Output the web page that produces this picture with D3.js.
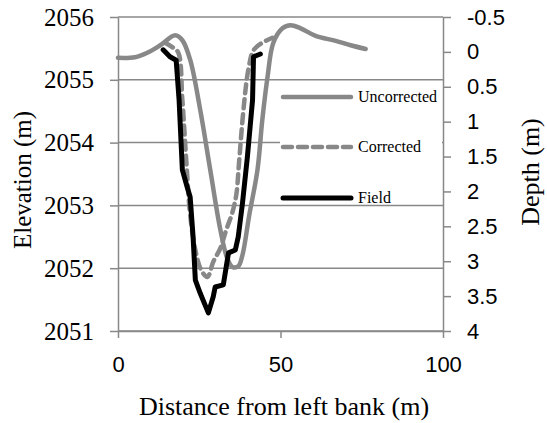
<!DOCTYPE html>
<html>
<head>
<meta charset="utf-8">
<script src="https://cdn.jsdelivr.net/npm/d3@7/dist/d3.min.js"></script>
<style>
  body { margin: 0; background: #fff; }
  svg { display: block; }
</style>
</head>
<body>
<div id="chart"></div>
<script>
// distance from left bank (m) / elevation (m)
const uncorrectedX = [0, 5.2, 9.0, 13.0, 17.6, 19.8, 22.2, 25.3, 28.4, 31.5, 33.6, 35.2, 37.0, 38.3, 40.4, 42.9, 44.4, 46.0, 47.8, 50.6, 53.1, 56.2, 60.8, 67.0, 71.6, 76.2];
const uncorrectedY = [2055.35, 2055.36, 2055.43, 2055.55, 2055.71, 2055.63, 2055.32, 2054.52, 2053.56, 2052.61, 2052.16, 2052.02, 2052.03, 2052.21, 2052.85, 2053.56, 2054.36, 2055.04, 2055.59, 2055.82, 2055.87, 2055.82, 2055.70, 2055.62, 2055.55, 2055.49];

const correctedX = [14.5, 16.7, 18.5, 19.8, 21.0, 22.2, 23.8, 25.6, 27.5, 29.3, 31.5, 33.3, 35.2, 36.4, 37.3, 38.6, 40.1, 41.7, 44.4, 47.5];
const correctedY = [2055.59, 2055.52, 2055.44, 2054.68, 2053.72, 2052.85, 2052.29, 2051.97, 2051.86, 2052.10, 2052.32, 2052.61, 2052.89, 2053.17, 2053.72, 2054.52, 2055.16, 2055.47, 2055.59, 2055.67];

// field survey, plotted as depth (m) on the right axis
const fieldX = [13.9, 16.0, 17.9, 18.8, 19.8, 21.3, 22.2, 23.1, 23.8, 25.3, 27.8, 29.3, 29.9, 32.4, 34.0, 36.1, 37.0, 38.3, 39.8, 41.4, 41.7, 43.8];
const fieldDepth = [-0.03, 0.07, 0.12, 0.69, 1.69, 1.94, 2.08, 2.65, 3.27, 3.46, 3.74, 3.51, 3.37, 3.34, 2.88, 2.84, 2.65, 2.17, 1.51, 0.69, 0.07, 0.03];

const xTicks = [0, 50, 100];
const elevTicks = [2051, 2052, 2053, 2054, 2055, 2056];
const depthTicks = [-0.5, 0, 0.5, 1, 1.5, 2, 2.5, 3, 3.5, 4];
const legendNames = ['Uncorrected', 'Corrected', 'Field'];

const width = 547;
const height = 423;
const margin = {top: 17, right: 104, bottom: 92, left: 118};
const gray = '#888888';
const serif = '"Liberation Serif", "Times New Roman", serif';
const sans = '"Liberation Sans", Arial, sans-serif';
const plain = d => String(d);

const svg = d3.select('#chart')
  .append('svg')
  .attr('width', width)
  .attr('height', height);

const x = d3.scaleLinear().domain([0, 100]).range([margin.left, width - margin.right]);
const yElev = d3.scaleLinear().domain([2051, 2056]).range([height - margin.bottom, margin.top]);
const yDepth = d3.scaleLinear().domain([4, -0.5]).range([height - margin.bottom, margin.top]);

// gridlines
svg.append('g')
  .selectAll('line')
  .data(elevTicks)
  .join('line')
  .attr('x1', x(0))
  .attr('x2', x(100))
  .attr('y1', d => yElev(d))
  .attr('y2', d => yElev(d))
  .attr('stroke', gray)
  .attr('stroke-width', 1.5);

// legend box hides the gridline behind it
svg.append('rect')
  .attr('x', 280)
  .attr('y', 86)
  .attr('width', x(100) - 281)
  .attr('height', 117)
  .attr('fill', '#fff');

// axes
const styleAxis = (g)=> {
  g.select('.domain').attr('stroke', gray).attr('stroke-width', 1.5);
  g.selectAll('.tick line').attr('stroke', gray).attr('stroke-width', 1.5);
  g.selectAll('.tick text').attr('fill', '#000');
};

svg.append('g')
  .attr('transform', `translate(${margin.left},0)`)
  .call(d3.axisLeft(yElev).tickValues(elevTicks).tickFormat(plain).tickSize(8).tickPadding(16).tickSizeOuter(0))
  .call(styleAxis)
  .call(g => g.selectAll('.tick text').style('font-family', serif).style('font-size', '25px'));

svg.append('g')
  .attr('transform', `translate(${x(100)},0)`)
  .call(d3.axisRight(yDepth).tickValues(depthTicks).tickFormat(plain).tickSize(8).tickPadding(16).tickSizeOuter(0))
  .call(styleAxis)
  .call(g => g.selectAll('.tick text').style('font-family', sans).style('font-size', '22px'));

svg.append('g')
  .attr('transform', `translate(0,${height - margin.bottom})`)
  .call(d3.axisBottom(x).tickValues(xTicks).tickFormat(plain).tickSize(7).tickPadding(18).tickSizeOuter(0))
  .call(styleAxis)
  .call(g => g.selectAll('.tick text').style('font-family', sans).style('font-size', '22px'));

// series
const lineElev = d3.line()
  .x(d => x(d[0]))
  .y(d => yElev(d[1]))
  .curve(d3.curveCatmullRom);

const lineDepth = d3.line()
  .x(d => x(d[0]))
  .y(d => yDepth(d[1]));

svg.append('path')
  .datum(d3.zip(uncorrectedX, uncorrectedY))
  .attr('d', lineElev)
  .attr('fill', 'none')
  .attr('stroke', gray)
  .attr('stroke-width', 4.5)
  .attr('stroke-linecap', 'round')
  .attr('stroke-linejoin', 'round');

svg.append('path')
  .datum(d3.zip(correctedX, correctedY))
  .attr('d', lineElev)
  .attr('fill', 'none')
  .attr('stroke', gray)
  .attr('stroke-width', 4.5)
  .attr('stroke-dasharray', '9,6')
  .attr('stroke-linecap', 'round')
  .attr('stroke-linejoin', 'round');

svg.append('path')
  .datum(d3.zip(fieldX, fieldDepth))
  .attr('d', lineDepth)
  .attr('fill', 'none')
  .attr('stroke', '#000')
  .attr('stroke-width', 5)
  .attr('stroke-linecap', 'round')
  .attr('stroke-linejoin', 'round');

// legend
const legendY = [97, 147, 198];
const legendStyle = [
  {stroke: gray, dash: null},
  {stroke: gray, dash: '9,6'},
  {stroke: '#000', dash: null}
];
const legend = svg.append('g');
legendNames.forEach((name, i)=> {
  legend.append('line')
    .attr('x1', 283)
    .attr('x2', 351)
    .attr('y1', legendY[i])
    .attr('y2', legendY[i])
    .attr('stroke', legendStyle[i].stroke)
    .attr('stroke-width', i === 2 ? 5 : 4.5)
    .attr('stroke-dasharray', legendStyle[i].dash)
    .attr('stroke-linecap', 'round');
  legend.append('text')
    .attr('x', 358)
    .attr('y', legendY[i])
    .attr('dy', '0.33em')
    .style('font-family', serif)
    .style('font-size', '16px')
    .text(name);
});

// axis titles
svg.append('text')
  .attr('transform', 'translate(31,180) rotate(-90)')
  .attr('text-anchor', 'middle')
  .style('font-family', serif)
  .style('font-size', '25px')
  .text('Elevation (m)');

svg.append('text')
  .attr('transform', 'translate(539,172) rotate(-90)')
  .attr('text-anchor', 'middle')
  .style('font-family', serif)
  .style('font-size', '26px')
  .text('Depth (m)');

svg.append('text')
  .attr('x', 284)
  .attr('y', 415)
  .attr('text-anchor', 'middle')
  .style('font-family', serif)
  .style('font-size', '26px')
  .text('Distance from left bank (m)');
</script>
</body>
</html>
